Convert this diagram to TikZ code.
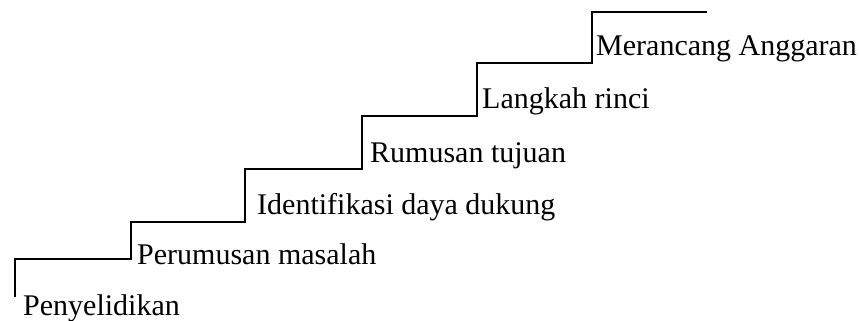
\documentclass[tikz,border=0pt]{standalone}
\usepackage{fontspec}
\setmainfont{Liberation Serif}
\begin{document}
\begin{tikzpicture}[x=1pt,y=-1pt,
  stair/.style={line width=1.6pt,line join=miter,black},
  steplabel/.style={anchor=base west,inner sep=0pt,font=\fontsize{30}{34}\selectfont}]
\useasboundingbox (0,0) rectangle (859,321);
% staircase outline
\draw[stair] (15,297) -- (15,259) -- (131,259) -- (131,222) -- (245,222)
  -- (245,169) -- (362,169) -- (362,116) -- (477,116) -- (477,63)
  -- (592,63) -- (592,12) -- (707,12);
% step labels
\node[steplabel] (s1) at (23,315) {Penyelidikan};
\node[steplabel] (s2) at (137,264) {Perumusan masalah};
\node[steplabel] (s3) at (257,214) {Identifikasi daya dukung};
\node[steplabel] (s4) at (370,162) {Rumusan tujuan};
\node[steplabel] (s5) at (482,108) {Langkah rinci};
\node[steplabel] (s6) at (596,56) {Merancang Anggaran};
\end{tikzpicture}
\end{document}
